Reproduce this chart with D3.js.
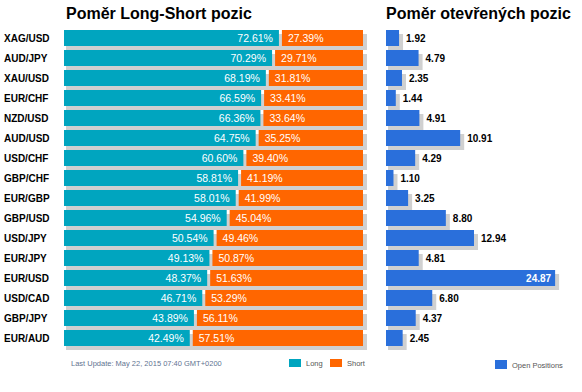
<!DOCTYPE html>
<html><head><meta charset="utf-8">
<script src="https://cdn.jsdelivr.net/npm/d3@7"></script>
<style>body{margin:0;background:#fff;} svg{display:block;font-family:"Liberation Sans",Arial,sans-serif;}</style>
</head><body>
<script>
const pairs = ["XAG/USD","AUD/JPY","XAU/USD","EUR/CHF","NZD/USD","AUD/USD","USD/CHF","GBP/CHF","EUR/GBP","GBP/USD","USD/JPY","EUR/JPY","EUR/USD","USD/CAD","GBP/JPY","EUR/AUD"];
const longPct = [72.61,70.29,68.19,66.59,66.36,64.75,60.60,58.81,58.01,54.96,50.54,49.13,48.37,46.71,43.89,42.49];
const shortPct = [27.39,29.71,31.81,33.41,33.64,35.25,39.40,41.19,41.99,45.04,49.46,50.87,51.63,53.29,56.11,57.51];
const openPos = [1.92,4.79,2.35,1.44,4.91,10.91,4.29,1.10,3.25,8.80,12.94,4.81,24.87,6.80,4.37,2.45];
const titles = ["Poměr Long-Short pozic","Poměr otevřených pozic"];
const legendLabels = ["Long","Short","Open Positions"];
const updateText = "Last Update: May 22, 2015 07:40 GMT+0200";

const W=582,H=392;
const cLong="#00A5BF", cShort="#FF6600", cOpen="#2A6FDB", cShadow="#d0d0d0";
const svg=d3.select("body").append("svg").attr("width",W).attr("height",H);

const y=d3.scaleBand().domain(pairs).range([28,348]).paddingInner(0.2).paddingOuter(0.1);
const gap=3;
const x=d3.scaleLinear().domain([0,100]).range([0,296]);
const x0=64;
const xo=d3.scaleLinear().domain([0,25]).range([0,170]);
const xo0=386;

// titles
svg.append("text").attr("x",66).attr("y",19).attr("font-size",16).attr("font-weight","bold").attr("fill","#000").text(titles[0]);
svg.append("text").attr("x",386).attr("y",19).attr("font-size",16).attr("font-weight","bold").attr("fill","#000").text(titles[1]);

const rows=pairs.map((p,i)=>({p,l:longPct[i],s:shortPct[i],o:openPos[i]}));

// left chart
const g=svg.append("g");
g.selectAll("rect.sh").data(rows).join("rect").attr("class","sh")
 .attr("x",x0+2).attr("y",d=>y(d.p)+4).attr("width",x(100)+gap+2).attr("height",y.bandwidth()).attr("fill",cShadow);
g.selectAll("rect.l").data(rows).join("rect").attr("class","l")
 .attr("x",x0).attr("y",d=>y(d.p)).attr("width",d=>x(d.l)).attr("height",y.bandwidth()).attr("fill",cLong);
g.selectAll("rect.s").data(rows).join("rect").attr("class","s")
 .attr("x",d=>x0+x(d.l)+gap).attr("y",d=>y(d.p)).attr("width",d=>x(d.s)).attr("height",y.bandwidth()).attr("fill",cShort);
g.selectAll("text.lt").data(rows).join("text").attr("class","lt")
 .attr("x",d=>x0+x(d.l)-6).attr("y",d=>y(d.p)+y.bandwidth()/2+4).attr("text-anchor","end")
 .attr("font-size",10.5).attr("fill","#fff").text(d=>d.l.toFixed(2)+"%");
g.selectAll("text.st").data(rows).join("text").attr("class","st")
 .attr("x",d=>x0+x(d.l)+gap+6).attr("y",d=>y(d.p)+y.bandwidth()/2+4)
 .attr("font-size",10.5).attr("fill","#fff").text(d=>d.s.toFixed(2)+"%");
g.selectAll("text.pl").data(rows).join("text").attr("class","pl")
 .attr("x",4).attr("y",d=>y(d.p)+y.bandwidth()/2+3.5)
 .attr("font-size",10).attr("font-weight","bold").attr("fill","#000").text(d=>d.p);

// right chart
const g2=svg.append("g");
g2.selectAll("rect.sh").data(rows).join("rect").attr("class","sh")
 .attr("x",xo0+2).attr("y",d=>y(d.p)+4).attr("width",d=>xo(d.o)+2).attr("height",y.bandwidth()).attr("fill",cShadow);
g2.selectAll("rect.o").data(rows).join("rect").attr("class","o")
 .attr("x",xo0).attr("y",d=>y(d.p)).attr("width",d=>xo(d.o)).attr("height",y.bandwidth()).attr("fill",cOpen);
g2.selectAll("text.ot").data(rows).join("text").attr("class","ot")
 .attr("x",d=>xo(d.o)>120? xo0+xo(d.o)-4 : xo0+xo(d.o)+7)
 .attr("text-anchor",d=>xo(d.o)>120?"end":"start")
 .attr("y",d=>y(d.p)+y.bandwidth()/2+4)
 .attr("font-size",10).attr("font-weight","bold")
 .attr("fill",d=>xo(d.o)>120?"#fff":"#000").text(d=>d.o.toFixed(2));

// footer
svg.append("text").attr("x",71).attr("y",366).attr("font-size",7.5).attr("fill","#5f7391").text(updateText);
const leg=[{x:289,y:359,h:8,c:cLong,t:legendLabels[0],ty:366},{x:330,y:359,h:8,c:cShort,t:legendLabels[1],ty:366},{x:495,y:360,h:9,c:cOpen,t:legendLabels[2],ty:368}];
leg.forEach(d=>{
  svg.append("rect").attr("x",d.x).attr("y",d.y).attr("width",12).attr("height",d.h).attr("fill",d.c);
  svg.append("text").attr("x",d.x+17).attr("y",d.ty).attr("font-size",7.5).attr("fill","#555").text(d.t);
});
</script>
</body></html>
